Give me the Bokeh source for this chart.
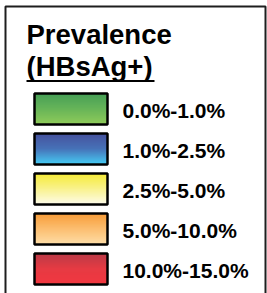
from bokeh.plotting import figure
from bokeh.models import Range1d
from bokeh.core.properties import value
from bokeh.embed import file_html
from bokeh.resources import INLINE

title_lines = ["Prevalence", "(HBsAg+)"]
labels = ["0.0%-1.0%", "1.0%-2.5%", "2.5%-5.0%", "5.0%-10.0%", "10.0%-15.0%"]
top_colors = ["#2c913f", "#2b3990", "#f4e81c", "#f68e1e", "#b21f2d"]
mid_colors = ["#52aa40", "#2d5fae", "#f8f07e", "#fbb55c", "#e31e28"]
bottom_colors = ["#7fc343", "#2bc3f2", "#fdfbe4", "#fed89a", "#ef1c25"]

W, H = 267, 293
p = figure(width=W, height=H, output_backend="svg", toolbar_location=None,
           x_range=Range1d(0, W), y_range=Range1d(H, 0), min_border=0)
p.axis.visible = False
p.grid.visible = False
p.outline_line_color = None
p.background_fill_color = "white"
p.styles = {"position": "absolute", "left": "0px", "top": "0px"}

# outer box
p.quad(left=5, right=265, top=6, bottom=H + 10, fill_color=None,
       line_color="#1e1e1e", line_width=2)

font = value("Liberation Sans")
p.text(x=[26, 26], y=[33.5, 65.5], text=title_lines, text_font=font,
       text_font_size="27.5px", text_font_style="bold", text_color="black",
       text_baseline="middle", text_align="left")
p.segment(x0=26, y0=80.5, x1=154, y1=80.5, line_color="black", line_width=2)


def hex2rgb(h):
    return tuple(int(h[i:i + 2], 16) for i in (1, 3, 5))


def mix(a, b, t):
    return tuple(int(round(x + (y - x) * t)) for x, y in zip(a, b))


sw_left, sw_right, sw_h, sw_top0, sw_gap = 34, 107, 31, 93, 40
n_strips = 31
for i, lab in enumerate(labels):
    top = sw_top0 + i * sw_gap
    c0 = hex2rgb(top_colors[i])
    cm = hex2rgb(mid_colors[i])
    c1 = hex2rgb(bottom_colors[i])
    tops, bots, cols = [], [], []
    for k in range(n_strips):
        t = k / (n_strips - 1)
        rgb = mix(c0, cm, t * 2) if t < 0.5 else mix(cm, c1, (t - 0.5) * 2)
        tops.append(top + k * sw_h / n_strips)
        bots.append(top + (k + 1) * sw_h / n_strips + 0.3)
        cols.append("#%02x%02x%02x" % rgb)
    p.quad(left=sw_left, right=sw_right, top=tops, bottom=bots, fill_color=cols,
           line_color=None)
    p.quad(left=sw_left, right=sw_right, top=top, bottom=top + sw_h,
           fill_color=None, line_color="black", line_width=2.5)
    p.text(x=[122], y=[top + sw_h / 2 + 1], text=[lab], text_font=font,
           text_font_size="21px", text_font_style="bold", text_color="black",
           text_baseline="middle", text_align="left")

open("out.html", "w").write(file_html(p, INLINE))
